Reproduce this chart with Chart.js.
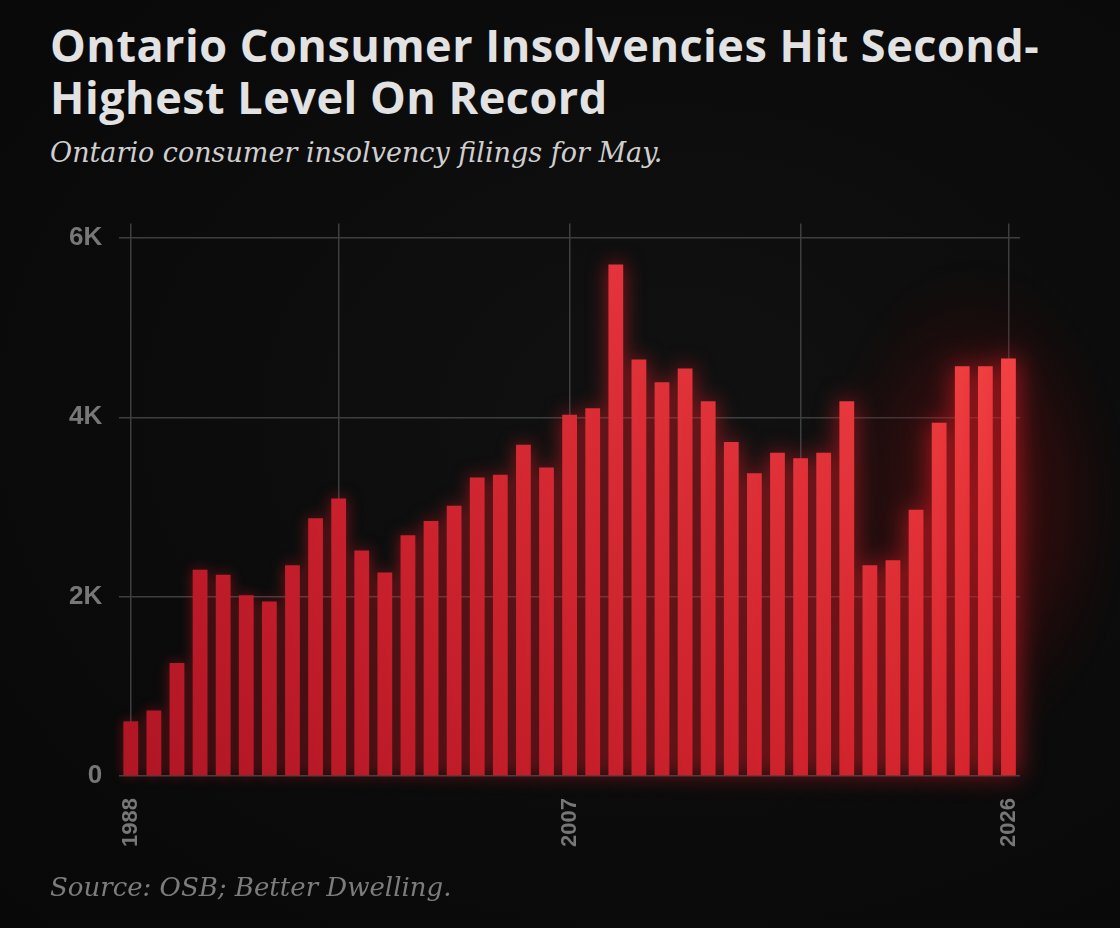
<!DOCTYPE html>
<html>
<head>
<meta charset="utf-8">
<script src="https://cdn.jsdelivr.net/npm/chart.js@4"></script>
<style>
    html, body { margin: 0; padding: 0; }
    body {
        width: 1120px; height: 928px; overflow: hidden; position: relative;
        background: radial-gradient(ellipse at 60% 45%, #111111 0%, #0b0b0b 60%, #080808 100%);
    }
    .title {
        position: absolute; left: 50px; top: 19px; width: 1070px;
        font-family: "Open Sans", sans-serif; font-weight: 700; font-size: 45px;
        line-height: 52px; color: #e2e2e2; letter-spacing: 0.5px;
    }
    .subtitle {
        position: absolute; left: 50px; top: 137px;
        font-family: "DejaVu Serif", serif; font-style: italic; font-size: 27px;
        color: #cfcfcf;
    }
    .source {
        position: absolute; left: 50px; top: 872px;
        font-family: "DejaVu Serif", serif; font-style: italic; font-size: 26px;
        color: #7c7c7c;
    }
    .chart-box { position: absolute; left: 0; top: 191px; width: 1120px; height: 688px; }
</style>
</head>
<body>
<div class="title">Ontario Consumer Insolvencies Hit Second-<br>Highest Level On Record</div>
<div class="subtitle">Ontario consumer insolvency filings for May.</div>
<div class="chart-box"><canvas id="chart"></canvas></div>
<div class="source">Source: OSB; Better Dwelling.</div>

<script>
// May filings, 1988 - 2026
const years = [
    1988, 1989, 1990, 1991, 1992, 1993, 1994, 1995, 1996, 1997,
    1998, 1999, 2000, 2001, 2002, 2003, 2004, 2005, 2006, 2007,
    2008, 2009, 2010, 2011, 2012, 2013, 2014, 2015, 2016, 2017,
    2018, 2019, 2020, 2021, 2022, 2023, 2024, 2025, 2026
];
const filings = [
    610, 730, 1260, 2300, 2245, 2015, 1945, 2350, 2875, 3095,
    2515, 2270, 2685, 2845, 3015, 3330, 3360, 3695, 3440, 4030,
    4100, 5705, 4645, 4390, 4545, 4180, 3725, 3375, 3605, 3545,
    3605, 4180, 2350, 2405, 2970, 3940, 4570, 4570, 4655
];
const yTicks = [0, 2000, 4000, 6000];
const gridYears = [1988, 1997, 2007, 2017, 2026];
const labelYears = [1988, 2007, 2026];

function mix(a, b, t) {
    return 'rgb(' + a.map((v, i) => Math.round(v + (b[i] - v) * t)).join(',') + ')';
}

const topLeft = [206, 28, 44], topRight = [250, 74, 74];
const botLeft = [176, 22, 36], botRight = [214, 38, 46];

function barFill(context) {
    const chart = context.chart;
    const area = chart.chartArea;
    const t = context.dataIndex / (years.length - 1);
    if (!area) return mix(topLeft, topRight, t);
    const g = chart.ctx.createLinearGradient(0, area.bottom, 0, area.top);
    g.addColorStop(0, mix(botLeft, botRight, t));
    g.addColorStop(1, mix(topLeft, topRight, t));
    return g;
}

// red haze behind the last bars + a soft glow on every bar
const glowPlugin = {
    id: 'glow',
    beforeDatasetsDraw(chart) {
        const { ctx, scales } = chart;
        const x = scales.x.getPixelForValue(years.length - 2.5);
        const y = scales.y.getPixelForValue(3000);
        ctx.save();
        ctx.translate(x, y);
        ctx.scale(1, 1.6);
        const g = ctx.createRadialGradient(0, 0, 0, 0, 0, 155);
        g.addColorStop(0, 'rgba(150, 14, 16, 0.45)');
        g.addColorStop(0.6, 'rgba(110, 8, 10, 0.22)');
        g.addColorStop(1, 'rgba(60, 0, 0, 0)');
        ctx.fillStyle = g;
        ctx.beginPath();
        ctx.arc(0, 0, 155, 0, Math.PI * 2);
        ctx.fill();
        ctx.restore();
    },
    beforeDatasetDraw(chart, args) {
        const ctx = chart.ctx;
        ctx.save();
        args.meta.data.forEach((bar, i) => {
            const t = i / (years.length - 1);
            ctx.shadowColor = 'rgba(230, 30, 40, ' + (0.4 + 0.45 * t).toFixed(2) + ')';
            ctx.shadowBlur = 12 + 14 * t;
            bar.draw(ctx);
        });
        ctx.restore();
        return false;
    }
};

new Chart(document.getElementById('chart'), {
    type: 'bar',
    data: {
        labels: years,
        datasets: [{
            data: filings,
            backgroundColor: barFill,
            borderWidth: 0,
            barPercentage: 0.64,
            categoryPercentage: 1
        }]
    },
    options: {
        responsive: true,
        maintainAspectRatio: false,
        animation: false,
        layout: { padding: { left: 52, right: 100, top: 10, bottom: 10 } },
        plugins: { legend: { display: false }, tooltip: { enabled: false } },
        scales: {
            x: {
                offset: true,
                border: { display: false },
                grid: {
                    offset: false,
                    drawTicks: false,
                    lineWidth: 1.5,
                    color: (c) => gridYears.includes(years[c.index]) ? '#3c3e40' : 'rgba(0,0,0,0)'
                },
                ticks: {
                    autoSkip: false,
                    minRotation: 90,
                    maxRotation: 90,
                    padding: 22,
                    color: '#777777',
                    font: { family: '"Liberation Sans", Arial, sans-serif', size: 22, weight: 'bold' },
                    callback: (v, i) => labelYears.includes(years[i]) ? String(years[i]) : ''
                }
            },
            y: {
                min: 0,
                max: 6160,
                border: { display: false },
                afterBuildTicks: (axis) => { axis.ticks = yTicks.map(v => ({ value: v })); },
                grid: { drawTicks: false, lineWidth: 1.5, color: '#3c3e40' },
                ticks: {
                    padding: 17,
                    color: '#777777',
                    font: { family: '"Liberation Sans", Arial, sans-serif', size: 26, weight: 'bold' },
                    callback: (v) => v === 0 ? '0' : (v / 1000) + 'K'
                }
            }
        }
    },
    plugins: [glowPlugin]
});
</script>
</body>
</html>
